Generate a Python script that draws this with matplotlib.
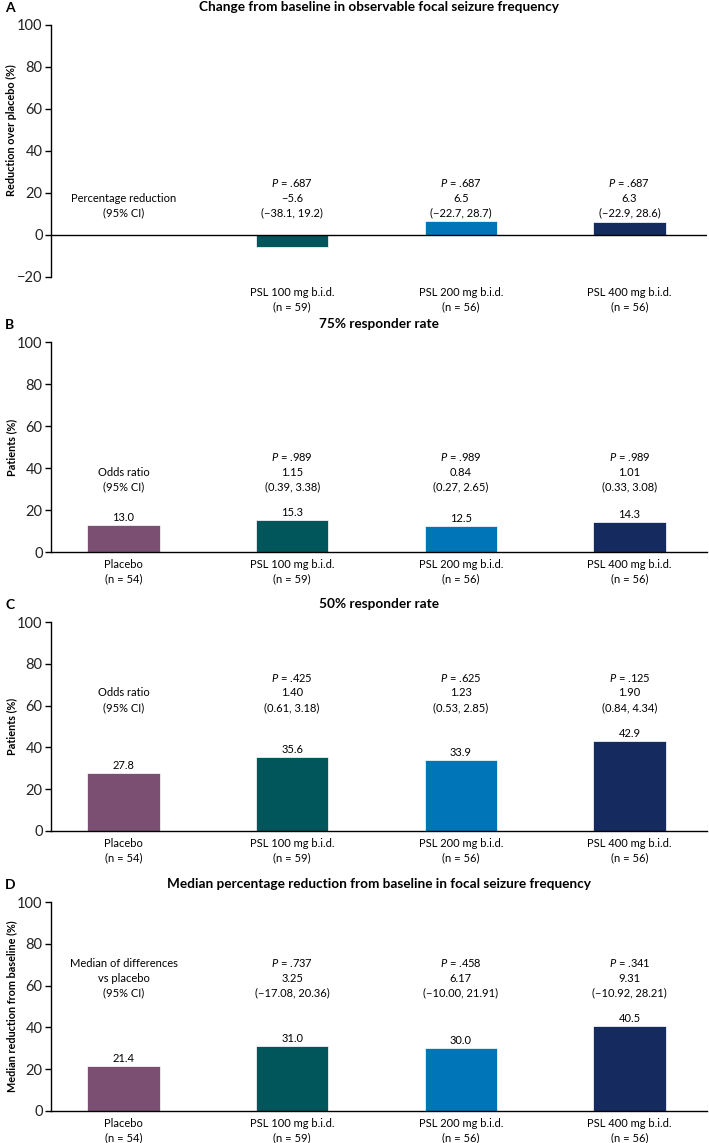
import matplotlib.pyplot as plt

plt.rcParams['font.family'] = ['Lato', 'DejaVu Sans']
plt.rcParams['mathtext.fontset'] = 'custom'
plt.rcParams['mathtext.it'] = 'Lato:italic'
plt.rcParams['mathtext.rm'] = 'Lato'

# ---------------- data ----------------
GROUPS = ['Placebo', 'PSL 100 mg b.i.d.', 'PSL 200 mg b.i.d.', 'PSL 400 mg b.i.d.']
N = [54, 59, 56, 56]
COLORS = ['#7B4F72', '#00565B', '#0075B8', '#152B60']

# panel A (no placebo bar)
A_VALUES = [-5.6, 6.5, 6.3]
A_P = ['.687', '.687', '.687']
A_EST = ['\u22125.6', '6.5', '6.3']
A_CI = ['(\u221238.1, 19.2)', '(\u221222.7, 28.7)', '(\u221222.9, 28.6)']

B_VALUES = [13.0, 15.3, 12.5, 14.3]
B_P = ['.989', '.989', '.989']
B_EST = ['1.15', '0.84', '1.01']
B_CI = ['(0.39, 3.38)', '(0.27, 2.65)', '(0.33, 3.08)']

C_VALUES = [27.8, 35.6, 33.9, 42.9]
C_P = ['.425', '.625', '.125']
C_EST = ['1.40', '1.23', '1.90']
C_CI = ['(0.61, 3.18)', '(0.53, 2.85)', '(0.84, 4.34)']

D_VALUES = [21.4, 31.0, 30.0, 40.5]
D_P = ['.737', '.458', '.341']
D_EST = ['3.25', '6.17', '9.31']
D_CI = ['(\u221217.08, 20.36)', '(\u221210.00, 21.91)', '(\u221210.92, 28.21)']
# --------------------------------------

W, H = 709, 1143
fig = plt.figure(figsize=(W / 100, H / 100), dpi=100)

FS = 8
LS = 1.38
x = list(range(len(GROUPS)))
xlabels = [f'{g}\n(n = {n})' for g, n in zip(GROUPS, N)]


def make_ax(top_px, bottom_px):
    left, right = 51, 707
    return fig.add_axes([left / W, (H - bottom_px) / H, (right - left) / W, (bottom_px - top_px) / H])


def style(ax, letter, title, ylabel, ylim):
    ax.set_xlim(-0.43, 3.46)
    ax.set_ylim(*ylim)
    ticks = list(range(int(ylim[0]), 101, 20))
    ax.set_yticks(ticks)
    ax.set_yticklabels([str(v).replace('-', '\u2212') for v in ticks])
    for s in ['top', 'right']:
        ax.spines[s].set_visible(False)
    ax.spines['left'].set_linewidth(1.0)
    ax.spines['bottom'].set_linewidth(1.0)
    ax.tick_params(axis='y', labelsize=10.5, length=4.5, width=1, pad=1.5, labelcolor='#222222')
    ax.tick_params(axis='x', length=0, labelsize=FS, pad=5)
    for lab in ax.get_xticklabels():
        lab.set_linespacing(1.35)
    ax.set_title(title, fontsize=9.8, fontweight='bold', pad=10)
    ax.set_ylabel(ylabel, fontsize=7.8, fontweight='bold')
    ymid = (50 - ylim[0]) / (ylim[1] - ylim[0])
    ax.yaxis.set_label_coords(-0.052, ymid)
    bb = ax.get_position()
    fig.text(5 / W, bb.y1 + 17 / H, letter, fontsize=10, fontweight='bold', va='center')


def stats_text(ax, y, pvals, ests, cis, left_label):
    ax.text(0, y, left_label, ha='center', va='bottom', fontsize=FS, linespacing=LS)
    for i, (p, e, c) in enumerate(zip(pvals, ests, cis)):
        ax.text(i + 1, y, f'$P$ = {p}\n{e}\n{c}', ha='center', va='bottom',
                fontsize=FS, linespacing=LS)


def value_labels(ax, values):
    for xi, v in zip(x, values):
        ax.annotate(f'{v:.1f}', (xi, v), xytext=(0, 1.5), textcoords='offset points',
                    ha='center', va='bottom', fontsize=FS)


# Panel A
ax = make_ax(25, 277)
ax.bar(x[1:], A_VALUES, width=0.43, color=COLORS[1:], edgecolor='white', linewidth=0.5)
ax.axhline(0, color='black', linewidth=1.0)
ax.set_xticks(x[1:])
ax.set_xticklabels(xlabels[1:])
style(ax, 'A', 'Change from baseline in observable focal seizure frequency',
      'Reduction over placebo (%)', (-20, 100))
ax.spines['bottom'].set_visible(False)
ax.tick_params(axis='x', pad=7)
stats_text(ax, 8.0, A_P, A_EST, A_CI, 'Percentage reduction\n(95% CI)')

# Panel B
ax = make_ax(342, 552)
ax.bar(x, B_VALUES, width=0.43, color=COLORS, edgecolor='white', linewidth=0.5)
ax.set_xticks(x)
ax.set_xticklabels(xlabels)
style(ax, 'B', '75% responder rate', 'Patients (%)', (0, 100))
stats_text(ax, 28.6, B_P, B_EST, B_CI, 'Odds ratio\n(95% CI)')
value_labels(ax, B_VALUES)

# Panel C
ax = make_ax(622, 831)
ax.bar(x, C_VALUES, width=0.43, color=COLORS, edgecolor='white', linewidth=0.5)
ax.set_xticks(x)
ax.set_xticklabels(xlabels)
style(ax, 'C', '50% responder rate', 'Patients (%)', (0, 100))
stats_text(ax, 56.5, C_P, C_EST, C_CI, 'Odds ratio\n(95% CI)')
value_labels(ax, C_VALUES)

# Panel D
ax = make_ax(902, 1111)
ax.bar(x, D_VALUES, width=0.43, color=COLORS, edgecolor='white', linewidth=0.5)
ax.set_xticks(x)
ax.set_xticklabels(xlabels)
style(ax, 'D', 'Median percentage reduction from baseline in focal seizure frequency',
      'Median reduction from baseline (%)', (0, 100))
stats_text(ax, 54.0, D_P, D_EST, D_CI, 'Median of differences\nvs placebo\n(95% CI)')
value_labels(ax, D_VALUES)

fig.savefig('out.png', dpi=100)
